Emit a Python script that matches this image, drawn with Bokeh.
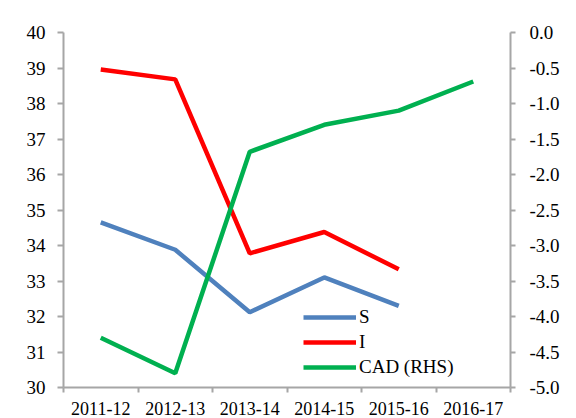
from bokeh.plotting import figure
from bokeh.models import LinearAxis, Range1d, FixedTicker, NumeralTickFormatter, Legend, LegendItem
from bokeh.embed import file_html
from bokeh.resources import INLINE

categories = ["2011-12", "2012-13", "2013-14", "2014-15", "2015-16", "2016-17"]
s_values = [34.65, 33.88, 32.12, 33.1, 32.3]
i_values = [38.96, 38.68, 33.78, 34.38, 33.33]
cad_values = [-4.3, -4.8, -1.68, -1.3, -1.1, -0.69]
left_ticks = [30, 31, 32, 33, 34, 35, 36, 37, 38, 39, 40]
right_ticks = [-5.0, -4.5, -4.0, -3.5, -3.0, -2.5, -2.0, -1.5, -1.0, -0.5, 0.0]

FONT = "Liberation Serif"
AX = "#a6a6a6"

x_all = [i + 0.5 for i in range(len(categories))]

p = figure(width=576, height=418, output_backend="svg", toolbar_location=None,
           x_range=Range1d(0, len(categories)), y_range=Range1d(30, 40),
           min_border_left=63, min_border_right=66, min_border_top=32, min_border_bottom=31,
           x_axis_location=None, y_axis_location=None)
p.outline_line_color = None
p.grid.visible = False
p.background_fill_color = "white"
p.border_fill_color = "white"

p.extra_y_ranges = {"cad": Range1d(-5, 0)}

xax = LinearAxis(ticker=FixedTicker(ticks=x_all, minor_ticks=list(range(len(categories) + 1))))
xax.major_label_overrides = {x: c for x, c in zip(x_all, categories)}
xax.major_tick_out = 0
xax.major_tick_in = 0
xax.minor_tick_out = 5
xax.minor_tick_in = 0
xax.minor_tick_line_color = AX
xax.minor_tick_line_width = 2
xax.axis_line_color = AX
xax.axis_line_width = 2
xax.major_label_standoff = 9
xax.major_label_text_font = FONT
xax.major_label_text_font_size = "18px"
xax.major_label_text_color = "#000000"
p.add_layout(xax, "below")

yax = LinearAxis(ticker=FixedTicker(ticks=left_ticks))
yax.major_tick_out = 6
yax.major_tick_in = 0
yax.minor_tick_out = 0
yax.minor_tick_in = 0
yax.major_tick_line_color = AX
yax.major_tick_line_width = 2
yax.axis_line_color = AX
yax.axis_line_width = 2
yax.major_label_standoff = 12
yax.major_label_text_font = FONT
yax.major_label_text_font_size = "19px"
yax.major_label_text_color = "#000000"
p.add_layout(yax, "left")

rax = LinearAxis(y_range_name="cad", ticker=FixedTicker(ticks=right_ticks),
                 formatter=NumeralTickFormatter(format="0.0"))
rax.major_tick_out = 5
rax.major_tick_in = 0
rax.minor_tick_out = 0
rax.minor_tick_in = 0
rax.major_tick_line_color = AX
rax.major_tick_line_width = 2
rax.axis_line_color = AX
rax.axis_line_width = 2
rax.major_label_standoff = 14
rax.major_label_text_font = FONT
rax.major_label_text_font_size = "19px"
rax.major_label_text_color = "#000000"
p.add_layout(rax, "right")

r_s = p.line(x_all[:len(s_values)], s_values, line_color="#4f81bd", line_width=4.5)
r_i = p.line(x_all[:len(i_values)], i_values, line_color="#ff0000", line_width=4.5)
r_c = p.line(x_all[:len(cad_values)], cad_values, line_color="#00b050", line_width=4.5, y_range_name="cad")

legend = Legend(items=[LegendItem(label="S", renderers=[r_s]),
                       LegendItem(label="I", renderers=[r_i]),
                       LegendItem(label="CAD (RHS)", renderers=[r_c])],
                location=(240, 9))
legend.background_fill_alpha = 0
legend.border_line_color = None
legend.padding = 0
legend.margin = 0
legend.spacing = 3
legend.glyph_width = 53
legend.glyph_height = 20
legend.label_height = 20
legend.label_standoff = 3
legend.label_text_font = FONT
legend.label_text_font_size = "19px"
legend.label_text_color = "#000000"
p.add_layout(legend, "center")

open("out.html", "w").write(file_html(p, INLINE))
